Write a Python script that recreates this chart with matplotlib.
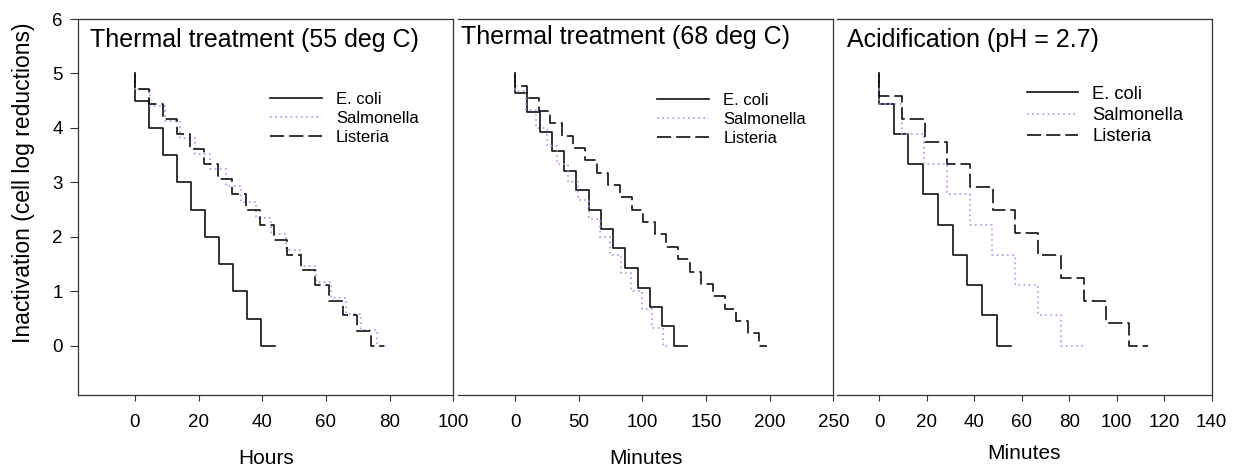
import matplotlib
matplotlib.use("Agg")
import matplotlib.pyplot as plt

plt.rcParams['font.family'] = ['Liberation Sans', 'DejaVu Sans']

# ---------------- data ----------------
# Panel 1: thermal treatment 55 deg C (hours)
p1_ecoli_t = [0, 0, 4.4, 8.8, 13.2, 17.6, 22.0, 26.4, 30.8, 35.2, 39.6, 44.0]
p1_ecoli_v = [5, 4.5, 4.0, 3.5, 3.0, 2.5, 2.0, 1.5, 1.0, 0.5, 0.0, 0.0]
p1_salm_t = [0, 0, 4.74, 9.49, 14.23, 18.98, 23.72, 28.46, 33.21, 37.95, 42.69,
             47.44, 52.18, 56.93, 61.67, 66.41, 71.16, 75.90, 79.6]
p1_salm_v = [5, 4.71, 4.41, 4.12, 3.82, 3.53, 3.24, 2.94, 2.65, 2.35, 2.06,
             1.76, 1.47, 1.18, 0.88, 0.59, 0.29, 0.0, 0.0]
p1_list_t = [0, 0, 4.35, 8.71, 13.06, 17.41, 21.76, 26.12, 30.47, 34.82, 39.18,
             43.53, 47.88, 52.24, 56.59, 60.94, 65.29, 69.65, 74.0, 78.3]
p1_list_v = [5, 4.72, 4.44, 4.17, 3.89, 3.61, 3.33, 3.06, 2.78, 2.50, 2.22,
             1.94, 1.67, 1.39, 1.11, 0.83, 0.56, 0.28, 0.0, 0.0]

# Panel 2: thermal treatment 68 deg C (minutes)
p2_ecoli_t = [0, 0, 9.62, 19.25, 28.87, 38.49, 48.12, 57.74, 67.37, 76.99, 86.61,
              96.24, 105.86, 115.48, 125.1, 134.7]
p2_ecoli_v = [5, 4.64, 4.29, 3.93, 3.57, 3.21, 2.86, 2.50, 2.14, 1.79, 1.43,
              1.07, 0.71, 0.36, 0.0, 0.0]
p2_salm_t = [0, 0, 8.29, 16.57, 24.86, 33.14, 41.43, 49.71, 58.0, 66.29, 74.57,
             82.86, 91.14, 99.43, 107.71, 116.0, 120.5]
p2_salm_v = [5, 4.67, 4.33, 4.00, 3.67, 3.33, 3.00, 2.67, 2.33, 2.00, 1.67,
             1.33, 1.00, 0.67, 0.33, 0.0, 0.0]
p2_list_t = [0, 0, 9.14, 18.28, 27.42, 36.56, 45.7, 54.84, 63.98, 73.12, 82.26,
             91.4, 100.54, 109.68, 118.82, 127.96, 137.1, 146.24, 155.38, 164.52,
             173.66, 182.8, 191.94, 198.0]
p2_list_v = [5, 4.77, 4.55, 4.32, 4.09, 3.86, 3.64, 3.41, 3.18, 2.95, 2.73,
             2.50, 2.27, 2.05, 1.82, 1.59, 1.36, 1.14, 0.91, 0.68,
             0.45, 0.23, 0.0, 0.0]

# Panel 3: acidification pH 2.7 (minutes)
p3_ecoli_t = [0, 0, 6.2, 12.4, 18.6, 24.8, 31.0, 37.2, 43.4, 49.6, 55.7]
p3_ecoli_v = [5, 4.44, 3.89, 3.33, 2.78, 2.22, 1.67, 1.11, 0.56, 0.0, 0.0]
p3_salm_t = [0, 0, 9.55, 19.1, 28.65, 38.2, 47.75, 57.3, 66.85, 76.4, 86.0]
p3_salm_v = [5, 4.44, 3.89, 3.33, 2.78, 2.22, 1.67, 1.11, 0.56, 0.0, 0.0]
p3_list_t = [0, 0, 9.57, 19.14, 28.71, 38.28, 47.85, 57.42, 66.99, 76.56, 86.13,
             95.7, 105.27, 113.0]
p3_list_v = [5, 4.58, 4.17, 3.75, 3.33, 2.92, 2.50, 2.08, 1.67, 1.25, 0.83,
             0.42, 0.0, 0.0]

titles = ["Thermal treatment (55 deg C)", "Thermal treatment (68 deg C)",
          "Acidification (pH = 2.7)"]
xlabels = ["Hours", "Minutes", "Minutes"]
series_names = ["E. coli", "Salmonella", "Listeria"]
p1_xticks = [0, 20, 40, 60, 80, 100]
p2_xticks = [0, 50, 100, 150, 200, 250]
p3_xticks = [0, 20, 40, 60, 80, 100, 120, 140]
yticks = [0, 1, 2, 3, 4, 5, 6]

# ---------------- figure ----------------
W, H = 1233, 467
fig = plt.figure(figsize=(W / 100, H / 100), dpi=100)

def fr(l, r, b=395, t=19):
    return [l / W, 1 - b / H, (r - l) / W, (b - t) / H]

ax1 = fig.add_axes(fr(78, 453.3))
ax2 = fig.add_axes(fr(457.5, 833.3))
ax3 = fig.add_axes(fr(836.5, 1211.7))

panels = [
    (ax1, (p1_ecoli_t, p1_ecoli_v), (p1_salm_t, p1_salm_v), (p1_list_t, p1_list_v),
     (-17.9, 100), p1_xticks),
    (ax2, (p2_ecoli_t, p2_ecoli_v), (p2_salm_t, p2_salm_v), (p2_list_t, p2_list_v),
     (-45.4, 250), p2_xticks),
    (ax3, (p3_ecoli_t, p3_ecoli_v), (p3_salm_t, p3_salm_v), (p3_list_t, p3_list_v),
     (-17.9, 140), p3_xticks),
]

line_col = '#111111'
salm_col = '#a796ee'
spine_col = '#333333'

title_pos = [(0.032, 0.945), (0.0085, 0.951), (0.029, 0.945)]
leg_pos = [(0.5116, 0.805, 12, 3.1, 0.86, 0.23),
           (0.5317, 0.803, 12, 3.1, 0.86, 0.23),
           (0.507, 0.823, 13.2, 2.8, 0.78, 0.24)]
xlab_pos = [(0.5, -0.168), (0.5008, -0.168), (0.4997, -0.155)]

for i, (ax, ec, sa, li, xl, xt) in enumerate(panels):
    h1, = ax.plot(ec[0], ec[1], drawstyle='steps-post', color=line_col, lw=1.2,
                  label=series_names[0])
    h2, = ax.plot(sa[0], sa[1], drawstyle='steps-post', color=salm_col, lw=1.2,
                  linestyle=(0, (1, 2.1)), label=series_names[1])
    h3, = ax.plot(li[0], li[1], drawstyle='steps-post', color=line_col, lw=1.2,
                  linestyle=(0, (8.5, 3.0)), label=series_names[2])
    ax.set_xlim(*xl)
    ax.set_ylim(-0.9, 6)
    ax.set_xticks(xt)
    ax.tick_params(axis='x', direction='out', length=4.5, width=0.8,
                   color=spine_col, labelsize=13.5, pad=9)
    for s in ax.spines.values():
        s.set_color(spine_col)
        s.set_linewidth(0.9)
    if i == 0:
        ax.set_yticks(yticks)
        ax.tick_params(axis='y', direction='out', length=6, width=0.8,
                       color=spine_col, labelsize=13.5, pad=5)
        ax.set_ylabel("Inactivation (cell log reductions)", fontsize=16.5,
                      rotation=90, va='center', ha='center')
        ax.yaxis.set_label_coords(-0.146, 0.565)
    else:
        ax.set_yticks([])
        ax.spines['left'].set_visible(False)
    tx, ty = title_pos[i]
    ax.text(tx, ty, titles[i], transform=ax.transAxes, fontsize=18,
            ha='left', va='center', color='black')
    lx, ly, lfs, hl, htp, ls = leg_pos[i]
    ax.legend(handles=[h1, h2, h3], loc='upper left', bbox_to_anchor=(lx, ly),
              frameon=False, fontsize=lfs, handlelength=hl, handletextpad=htp,
              labelspacing=ls, borderpad=0, borderaxespad=0)
    ax.set_xlabel(xlabels[i], fontsize=15, va='center')
    ax.xaxis.set_label_coords(*xlab_pos[i])

fig.savefig("out.png", dpi=100)
